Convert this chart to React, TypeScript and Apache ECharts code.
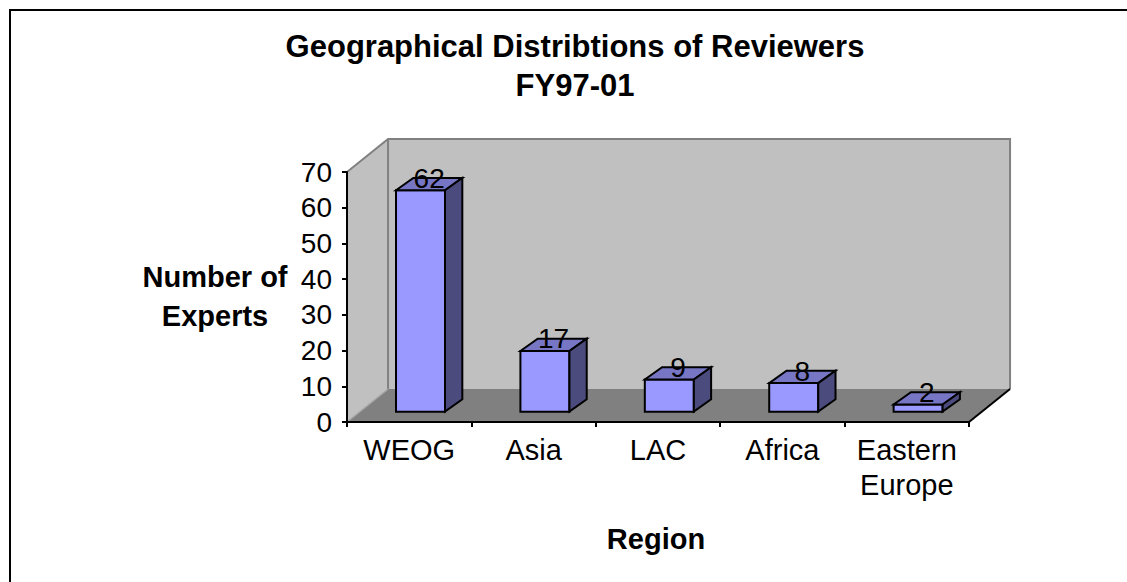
import React, { useEffect, useRef } from "react";
import * as echarts from "echarts";

const categories = ["WEOG", "Asia", "LAC", "Africa", "Eastern\nEurope"];
const experts = [62, 17, 9, 8, 2];
const yMin = 0;
const yMax = 70;
const yStep = 10;
const titleLines = ["Geographical Distribtions of Reviewers", "FY97-01"];
const yAxisTitle = ["Number of", "Experts"];
const xAxisTitle = "Region";

const FONT = "'Liberation Sans', Arial, Helvetica, sans-serif";

export default function App() {
  const ref = useRef<HTMLDivElement>(null);

  useEffect(() => {
    const chart = echarts.init(ref.current as HTMLDivElement, null, { renderer: "svg" });

    const wallRender = (params: any, api: any) => {
      const b = api.size([1, 0])[0];
      const p0 = api.coord([0, yMin]);
      const pN = api.coord([categories.length - 1, yMin]);
      const pT = api.coord([0, yMax]);
      const L = p0[0] - b / 2;
      const R = pN[0] + b / 2;
      const Y0 = p0[1];
      const YT = pT[1];
      const dx = 0.33 * b;
      const dy = -0.265 * b;
      return {
        type: "group",
        children: [
          { type: "polygon", shape: { points: [[L, YT], [L + dx, YT + dy], [L + dx, Y0 + dy], [L, Y0]] }, style: { fill: "#C0C0C0" } },
          { type: "rect", shape: { x: L + dx, y: YT + dy, width: R - L, height: Y0 - YT }, style: { fill: "#C0C0C0" } },
          { type: "polygon", shape: { points: [[L, Y0], [L + dx, Y0 + dy], [R + dx, Y0 + dy], [R, Y0]] }, style: { fill: "#808080" } },
          { type: "polyline", shape: { points: [[L, YT], [L + dx, YT + dy], [R + dx, YT + dy], [R + dx, Y0 + dy]] }, style: { stroke: "#808080", lineWidth: 2, fill: null } },
          { type: "line", shape: { x1: L + dx, y1: YT + dy, x2: L + dx, y2: Y0 + dy }, style: { stroke: "#808080", lineWidth: 2 } },
          { type: "line", shape: { x1: L, y1: Y0, x2: L + dx, y2: Y0 + dy }, style: { stroke: "#A8A8A8", lineWidth: 1.5 } },
          { type: "line", shape: { x1: R, y1: Y0, x2: R + dx, y2: Y0 + dy }, style: { stroke: "#000", lineWidth: 2 } },
        ],
      };
    };

    const barRender = (params: any, api: any) => {
      const i = api.value(0);
      const v = api.value(1);
      const b = api.size([1, 0])[0];
      const base = api.coord([i, yMin]);
      const top = api.coord([i, v]);
      const L = base[0] - b / 2;
      const oy = -0.083 * b;
      const x1 = L + 0.394 * b;
      const x2 = L + 0.788 * b;
      const yb = base[1] + oy;
      const yt = top[1] + oy;
      const ddx = 0.139 * b;
      const ddy = -0.099 * b;
      const stroke = { stroke: "#000", lineWidth: 2, lineJoin: "miter" };
      return {
        type: "group",
        children: [
          { type: "polygon", shape: { points: [[x1, yt], [x2, yt], [x2, yb], [x1, yb]] }, style: { fill: "#9999FF", ...stroke } },
          { type: "polygon", shape: { points: [[x1, yt], [x1 + ddx, yt + ddy], [x2 + ddx, yt + ddy], [x2, yt]] }, style: { fill: "#7676C4", ...stroke } },
          { type: "polygon", shape: { points: [[x2, yt], [x2 + ddx, yt + ddy], [x2 + ddx, yb + ddy], [x2, yb]] }, style: { fill: "#4B4B7E", ...stroke } },
          {
            type: "text",
            style: {
              text: String(v),
              x: (x1 + x2) / 2 + ddx / 2,
              y: yt - 12,
              textAlign: "center",
              textVerticalAlign: "middle",
              align: "center",
              verticalAlign: "middle",
              fontSize: 28,
              fontFamily: FONT,
              fill: "#000",
            },
          },
        ],
      };
    };

    const txt = (text: string, x: number, y: number, size: number, bold: boolean) => ({
      type: "text",
      x,
      y,
      style: {
        text,
        align: "center",
        verticalAlign: "middle",
        textAlign: "center",
        textVerticalAlign: "middle",
        fontSize: size,
        fontWeight: bold ? "bold" : "normal",
        fontFamily: FONT,
        fill: "#000",
      },
    });

    chart.setOption({
      animation: false,
      backgroundColor: "#fff",
      grid: { left: 347, right: 158, top: 172, bottom: 160, containLabel: false },
      xAxis: {
        type: "category",
        data: categories,
        boundaryGap: true,
        z: 5,
        axisLine: { show: true, lineStyle: { color: "#000", width: 2 } },
        axisTick: { show: true, alignWithLabel: false, length: 5, lineStyle: { color: "#000", width: 2 } },
        axisLabel: { interval: 0, margin: 10, fontSize: 29, lineHeight: 35, fontFamily: FONT, color: "#000" },
        splitLine: { show: false },
      },
      yAxis: {
        type: "value",
        min: yMin,
        max: yMax,
        interval: yStep,
        z: 5,
        axisLine: { show: true, lineStyle: { color: "#000", width: 2 } },
        axisTick: { show: true, length: 5, lineStyle: { color: "#000", width: 2 } },
        axisLabel: { margin: 15, fontSize: 28, fontFamily: FONT, color: "#000" },
        splitLine: { show: false },
      },
      series: [
        { type: "custom", z: 1, silent: true, clip: false, data: [[0, yMin]], renderItem: wallRender },
        { type: "custom", z: 2, silent: true, clip: false, data: experts.map((v, i) => [i, v]), renderItem: barRender },
      ],
      graphic: [
        { type: "rect", shape: { x: 10, y: 10, width: 1300, height: 800 }, style: { fill: "none", stroke: "#000", lineWidth: 2 } },
        txt(titleLines[0], 575, 46, 31, true),
        txt(titleLines[1], 575, 85, 31, true),
        txt(yAxisTitle[0], 215, 277, 29, true),
        txt(yAxisTitle[1], 215, 316, 29, true),
        txt(xAxisTitle, 656, 539, 29, true),
      ],
    });

    return () => chart.dispose();
  }, []);

  return (
    <div
      ref={ref}
      style={{ position: "absolute", left: 0, top: 0, width: 1127, height: 582, background: "#fff" }}
    />
  );
}
